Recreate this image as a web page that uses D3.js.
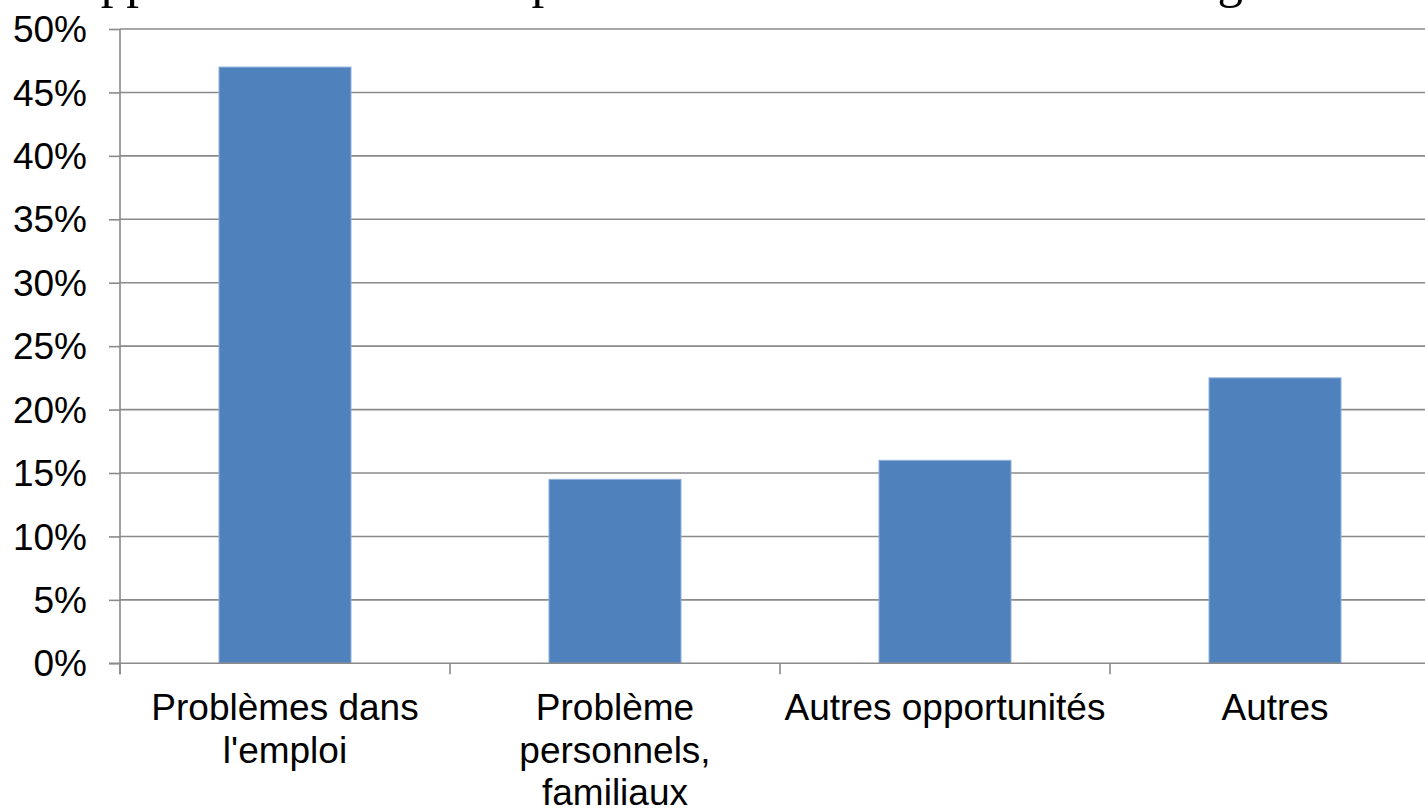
<!DOCTYPE html>
<html>
<head>
<meta charset="utf-8">
<script src="https://cdn.jsdelivr.net/npm/d3@7"></script>
<style>
  html, body { margin: 0; padding: 0; background: #ffffff; overflow: hidden; }
  svg { display: block; }
</style>
</head>
<body>
<svg id="chart" width="1425" height="809"></svg>
<script>
const titleText = "Apprentis : motif de rupture du contrat en fonction de l'âge";
const categories = ["Problèmes dans\nl'emploi", "Problème\npersonnels,\nfamiliaux", "Autres opportunités", "Autres"];
const values = [0.47, 0.145, 0.16, 0.225];
const yTicks = [0, 0.05, 0.10, 0.15, 0.20, 0.25, 0.30, 0.35, 0.40, 0.45, 0.50];

const svg = d3.select("#chart");
const plotLeft = 120, plotRight = 1440, plotTop = 29, plotBottom = 663.3;

const x = d3.scaleBand().domain(categories).range([plotLeft, plotRight]).paddingInner(0.6).paddingOuter(0.3);
const xTicks = d3.scaleBand().domain(categories).range([plotLeft, plotRight]).padding(0);
const y = d3.scaleLinear().domain([0, 0.5]).range([plotBottom, plotTop]);

const gridColor = "#8a8a8a";
const font = "'Liberation Sans', Arial, sans-serif";

// title (mostly cropped above the view)
svg.append("text")
  .attr("x", 64).attr("y", -3.5)
  .attr("font-family", "'Liberation Serif', 'Times New Roman', serif")
  .attr("font-size", 51)
  .attr("fill", "#000")
  .text(titleText);

// gridlines
svg.append("g").selectAll("line").data(yTicks.filter(d => d > 0)).join("line")
  .attr("x1", plotLeft).attr("x2", plotRight)
  .attr("y1", d => y(d)).attr("y2", d => y(d))
  .attr("stroke", gridColor).attr("stroke-width", 1.6);

// bars
svg.append("g").selectAll("rect").data(values).join("rect")
  .attr("x", (d, i) => x(categories[i]))
  .attr("width", x.bandwidth())
  .attr("y", d => y(d))
  .attr("height", d => y(0) - y(d))
  .attr("fill", "#4f81bd")
  .attr("stroke", "#8fb1dc")
  .attr("stroke-width", 1);

// y axis
const yAxis = d3.axisLeft(y).tickValues(yTicks).tickFormat(d3.format(".0%")).tickSize(11).tickPadding(22);
const gy = svg.append("g").attr("transform", `translate(${plotLeft},0)`).call(yAxis);
gy.select(".domain").remove();
gy.selectAll(".tick line").attr("stroke", gridColor).attr("stroke-width", 1.6);
gy.selectAll(".tick text").attr("font-family", font).attr("font-size", 37).attr("fill", "#000").attr("dy", "0.34em");
svg.append("line").attr("x1", plotLeft).attr("x2", plotLeft).attr("y1", plotTop).attr("y2", plotBottom + 11)
  .attr("stroke", gridColor).attr("stroke-width", 1.6);

// x axis
svg.append("line").attr("x1", plotLeft - 11).attr("x2", plotRight).attr("y1", plotBottom).attr("y2", plotBottom)
  .attr("stroke", gridColor).attr("stroke-width", 1.6);
const tickPositions = categories.map(c => xTicks(c)).concat([plotRight]);
svg.append("g").selectAll("line").data(tickPositions).join("line")
  .attr("x1", d => d).attr("x2", d => d)
  .attr("y1", plotBottom).attr("y2", plotBottom + 11)
  .attr("stroke", gridColor).attr("stroke-width", 1.6);

const labels = svg.append("g").selectAll("text").data(categories).join("text")
  .attr("x", d => x(d) + x.bandwidth() / 2)
  .attr("y", 720)
  .attr("text-anchor", "middle")
  .attr("font-family", font).attr("font-size", 37).attr("fill", "#000");
labels.each(function(d) {
  const t = d3.select(this);
  d.split("\n").forEach((line, i) => {
    t.append("tspan").attr("x", x(d) + x.bandwidth() / 2).attr("dy", i === 0 ? 0 : 42.5).text(line);
  });
});
</script>
</body>
</html>
